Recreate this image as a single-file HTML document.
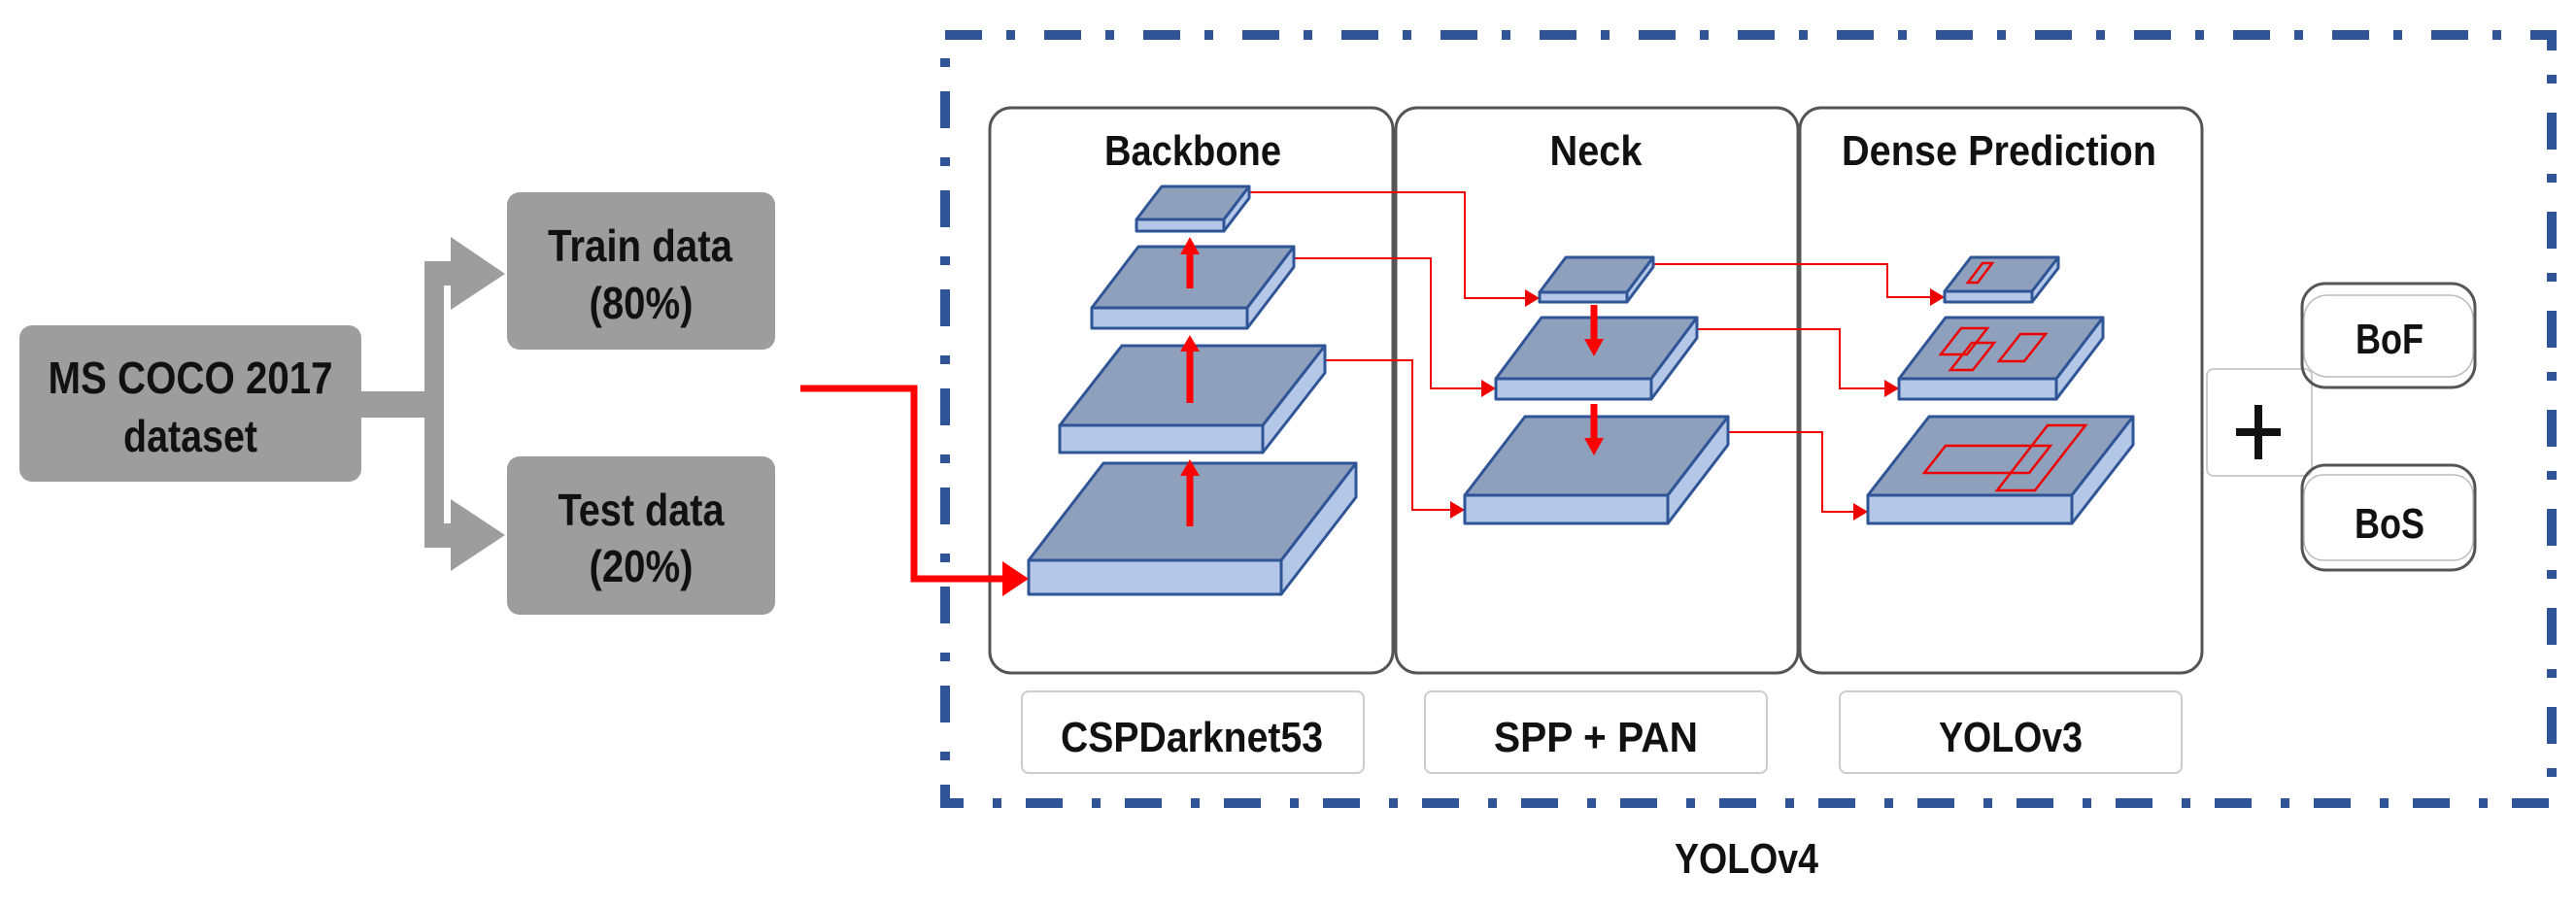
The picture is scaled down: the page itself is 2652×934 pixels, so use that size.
<!DOCTYPE html>
<html><head><meta charset="utf-8"><style>html,body{margin:0;padding:0;background:#fff}svg{display:block}</style></head>
<body>
<svg width="2652" height="934" viewBox="0 0 2652 934" xmlns="http://www.w3.org/2000/svg" font-family="Liberation Sans, sans-serif" font-weight="bold">
<defs>
<marker id="ah" markerWidth="8" markerHeight="8" refX="7" refY="4" orient="auto" markerUnits="userSpaceOnUse"><path d="M0,-4 L0,12 Z" fill="none"/></marker>
</defs>
<!-- left gray boxes -->
<rect x="20" y="335" width="352" height="161" rx="13" fill="#9d9d9d"/>
<rect x="522" y="198" width="276" height="162" rx="13" fill="#9d9d9d"/>
<rect x="522" y="470" width="276" height="163" rx="13" fill="#9d9d9d"/>
<!-- gray bracket arrows -->
<path d="M372,403 H437 V269 H464 V244 L520,282 L464,319 V294 H457 V539 H464 V514 L520,551 L464,588 V564 H437 V430 H372 Z" fill="#9d9d9d"/>
<g fill="#111" text-anchor="middle" font-size="46">
<text x="196" y="405" textLength="293" lengthAdjust="spacingAndGlyphs">MS COCO 2017</text>
<text x="196" y="465" textLength="138" lengthAdjust="spacingAndGlyphs">dataset</text>
<text x="659" y="269" textLength="190" lengthAdjust="spacingAndGlyphs">Train data</text>
<text x="660" y="328" textLength="107" lengthAdjust="spacingAndGlyphs">(80%)</text>
<text x="660" y="541" textLength="171" lengthAdjust="spacingAndGlyphs">Test data</text>
<text x="660" y="599" textLength="107" lengthAdjust="spacingAndGlyphs">(20%)</text>
</g>
<!-- dashed border -->
<rect x="973" y="36" width="1654" height="791" fill="none" stroke="#2F5597" stroke-width="10" stroke-dasharray="38 25 9 30"/>
<!-- panels -->
<g fill="#fff" stroke="#555" stroke-width="3">
<rect x="1019" y="111" width="415" height="582" rx="22"/>
<rect x="1437" y="111" width="414" height="582" rx="22"/>
<rect x="1853" y="111" width="414" height="582" rx="22"/>
</g>
<g fill="#fff" stroke="#ccc" stroke-width="2">
<rect x="1052" y="712" width="352" height="84" rx="7"/>
<rect x="1467" y="712" width="352" height="84" rx="7"/>
<rect x="1894" y="712" width="352" height="84" rx="7"/>
<rect x="2272" y="380" width="108" height="110" rx="7"/>
</g>
<g fill="#111" text-anchor="middle" font-size="44">
<text x="1228" y="170" textLength="182" lengthAdjust="spacingAndGlyphs">Backbone</text>
<text x="1643" y="170" textLength="95" lengthAdjust="spacingAndGlyphs">Neck</text>
<text x="2058" y="170" textLength="324" lengthAdjust="spacingAndGlyphs">Dense Prediction</text>
<text x="1227" y="774" textLength="270" lengthAdjust="spacingAndGlyphs">CSPDarknet53</text>
<text x="1643" y="774" textLength="210" lengthAdjust="spacingAndGlyphs">SPP + PAN</text>
<text x="2070" y="774" textLength="148" lengthAdjust="spacingAndGlyphs">YOLOv3</text>
<text x="1798" y="899" textLength="148" lengthAdjust="spacingAndGlyphs">YOLOv4</text>
<text x="2460" y="364" textLength="70" lengthAdjust="spacingAndGlyphs">BoF</text>
<text x="2460" y="554" textLength="72" lengthAdjust="spacingAndGlyphs">BoS</text>
</g>
<!-- plus -->
<rect x="2302" y="441" width="46" height="8" fill="#111"/>
<rect x="2321" y="417" width="8" height="56" fill="#111"/>
<!-- BoF / BoS -->
<g fill="none">
<rect x="2370" y="292" width="178" height="107" rx="24" stroke="#555" stroke-width="3"/>
<rect x="2372" y="304" width="174" height="84" rx="24" stroke="#bbb" stroke-width="1.5"/>
<rect x="2370" y="479" width="178" height="108" rx="24" stroke="#555" stroke-width="3"/>
<rect x="2372" y="489" width="174" height="88" rx="20" stroke="#bbb" stroke-width="1.5"/>
</g>
<!-- thin red connectors -->
<g fill="none" stroke="#e00" stroke-width="2">
<polyline points="1286,198 1508,198 1508,307 1572,307"/>
<polyline points="1332,266 1473,266 1473,400 1527,400"/>
<polyline points="1364,371 1454,371 1454,525 1495,525"/>
<polyline points="1702,272 1943,272 1943,306 1989,306"/>
<polyline points="1747,339 1894,339 1894,400 1942,400"/>
<polyline points="1779,445 1876,445 1876,527 1910,527"/>
</g>
<g fill="#e00">
<path d="M1570,298 L1585,307 L1570,316 Z"/>
<path d="M1525,391 L1540,400 L1525,409 Z"/>
<path d="M1493,516 L1508,525 L1493,534 Z"/>
<path d="M1987,297 L2002,306 L1987,315 Z"/>
<path d="M1940,391 L1955,400 L1940,409 Z"/>
<path d="M1908,518 L1923,527 L1908,536 Z"/>
</g>
<!-- layers -->
<g stroke="#2F5597" stroke-width="3" stroke-linejoin="round">
<!-- backbone -->
<g><polygon points="1170,226 1196,192 1286,192 1260,226" fill="#8EA0BC"/><rect x="1170" y="226" width="90" height="12" fill="#B4C7E7"/><polygon points="1260,226 1286,192 1286,204 1260,238" fill="#B4C7E7"/></g>
<g><polygon points="1124,317 1172,254 1332,254 1284,317" fill="#8EA0BC"/><rect x="1124" y="317" width="160" height="21" fill="#B4C7E7"/><polygon points="1284,317 1332,254 1332,275 1284,338" fill="#B4C7E7"/></g>
<g><polygon points="1091,438 1155,356 1364,356 1300,438" fill="#8EA0BC"/><rect x="1091" y="438" width="209" height="28" fill="#B4C7E7"/><polygon points="1300,438 1364,356 1364,384 1300,466" fill="#B4C7E7"/></g>
<g><polygon points="1059,577 1136,477 1396,477 1319,577" fill="#8EA0BC"/><rect x="1059" y="577" width="260" height="35" fill="#B4C7E7"/><polygon points="1319,577 1396,477 1396,512 1319,612" fill="#B4C7E7"/></g>
<!-- neck -->
<g><polygon points="1585,301 1612,265 1702,265 1675,301" fill="#8EA0BC"/><rect x="1585" y="301" width="90" height="10" fill="#B4C7E7"/><polygon points="1675,301 1702,265 1702,275 1675,311" fill="#B4C7E7"/></g>
<g><polygon points="1540,390 1587,327 1747,327 1700,390" fill="#8EA0BC"/><rect x="1540" y="390" width="160" height="21" fill="#B4C7E7"/><polygon points="1700,390 1747,327 1747,348 1700,411" fill="#B4C7E7"/></g>
<g><polygon points="1508,510 1570,429 1779,429 1717,510" fill="#8EA0BC"/><rect x="1508" y="510" width="209" height="29" fill="#B4C7E7"/><polygon points="1717,510 1779,429 1779,458 1717,539" fill="#B4C7E7"/></g>
<!-- dense -->
<g><polygon points="2002,300 2029,265 2119,265 2092,300" fill="#8EA0BC"/><rect x="2002" y="300" width="90" height="11" fill="#B4C7E7"/><polygon points="2092,300 2119,265 2119,276 2092,311" fill="#B4C7E7"/></g>
<g><polygon points="1955,390 2003,327 2165,327 2117,390" fill="#8EA0BC"/><rect x="1955" y="390" width="162" height="21" fill="#B4C7E7"/><polygon points="2117,390 2165,327 2165,348 2117,411" fill="#B4C7E7"/></g>
<g><polygon points="1923,510 1986,429 2196,429 2133,510" fill="#8EA0BC"/><rect x="1923" y="510" width="210" height="29" fill="#B4C7E7"/><polygon points="2133,510 2196,429 2196,458 2133,539" fill="#B4C7E7"/></g>
</g>
<!-- red boxes on prediction layers -->
<g fill="none" stroke="#e00" stroke-width="2.5">
<polygon points="2026,291 2041,271 2051,271 2036,291"/>
<polygon points="1998,365 2019,338 2046,338 2025,365"/>
<polygon points="2008,381 2030,353 2053,353 2031,381"/>
<polygon points="2058,372 2080,344 2106,344 2084,372"/>
<polygon points="1981,487 2003,459 2111,459 2089,487"/>
<polygon points="2056,505 2108,438 2147,438 2095,505"/>
</g>
<!-- thick red arrows -->
<g stroke="#f00" fill="none" stroke-width="7">
<polyline points="824,400 941,400 941,596 1036,596"/>
<line x1="1225" y1="297" x2="1225" y2="258"/>
<line x1="1225" y1="415" x2="1225" y2="358"/>
<line x1="1225" y1="542" x2="1225" y2="486"/>
<line x1="1641" y1="314" x2="1641" y2="353"/>
<line x1="1641" y1="416" x2="1641" y2="455"/>
</g>
<g fill="#f00">
<path d="M1032,578 L1059,596 L1032,614 Z"/>
<path d="M1215,262 L1225,244 L1235,262 Z"/>
<path d="M1215,362 L1225,345 L1235,362 Z"/>
<path d="M1215,490 L1225,473 L1235,490 Z"/>
<path d="M1631,349 L1641,367 L1651,349 Z"/>
<path d="M1631,451 L1641,469 L1651,451 Z"/>
</g>
</svg>
</body></html>
